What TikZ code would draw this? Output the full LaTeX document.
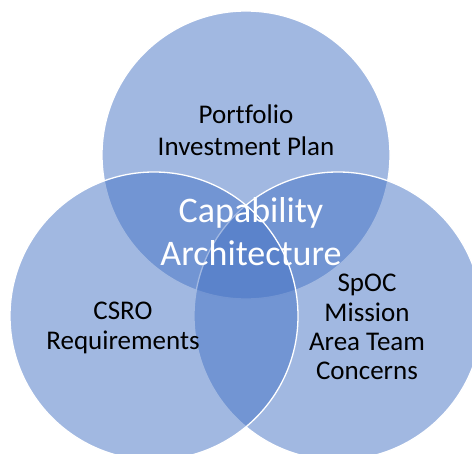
\documentclass[tikz,border=0pt]{standalone}
\usepackage{fontspec}
\setmainfont[Ligatures=NoCommon]{Carlito}
\definecolor{vennblue}{HTML}{4472C4}
\begin{document}
\begin{tikzpicture}[x=1pt,y=-1pt,
  venn/.style={circle, minimum size=288pt, inner sep=0pt,
    fill=vennblue, fill opacity=0.5, draw=white, draw opacity=1, line width=1.3pt},
  label/.style={align=center, inner sep=0pt, text=black},
  core/.style={align=center, inner sep=0pt, text=white}]
\useasboundingbox (0,0) rectangle (472,454);
\begin{scope}
  \clip (0,0) rectangle (472,454);
  % the three overlapping sets
  \node[venn] (plan) at (246,155) {};
  \node[venn] (spoc) at (338,316) {};
  \node[venn] (csro) at (154,316) {};
\end{scope}
% set labels
\node[label, font=\fontsize{27}{32}\selectfont] (plantext) at (246,130) {Portfolio\\Investment Plan};
\node[label, font=\fontsize{27}{30}\selectfont] (csrotext) at (123,328) {CSRO\\Requirements};
\node[label, font=\fontsize{27}{29.3}\selectfont] (spoctext) at (367,327) {SpOC\\Mission\\Area Team\\Concerns};
% common core
\node[core, font=\fontsize{36}{43}\selectfont] (coretext) at (251,232) {Capability\\Architecture};
\end{tikzpicture}
\end{document}
